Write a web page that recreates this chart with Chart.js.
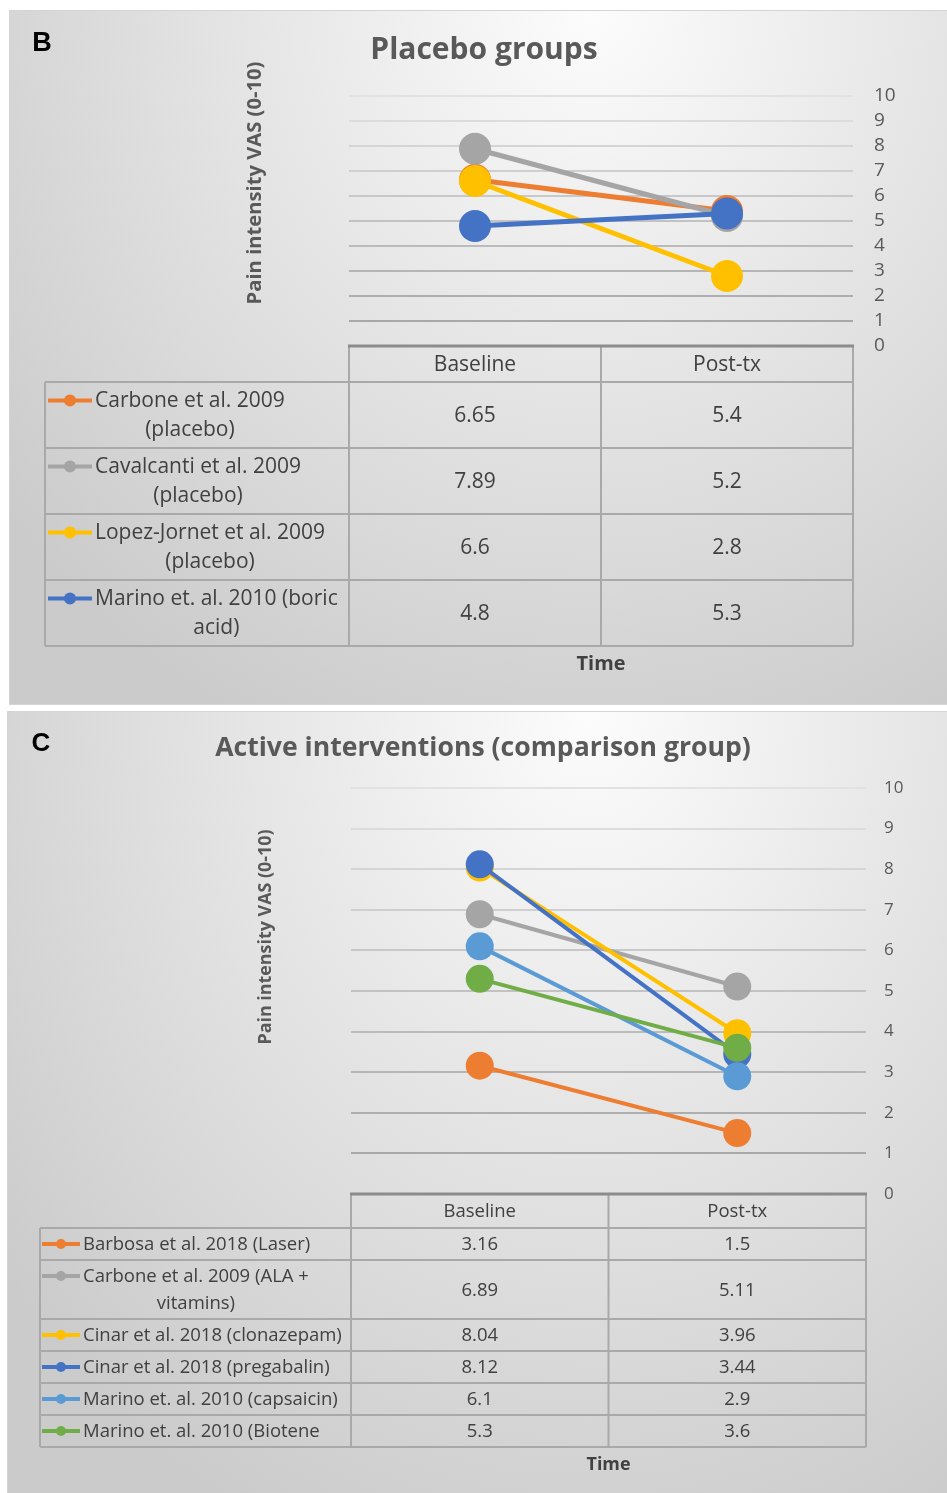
<!DOCTYPE html>
<html>
<head>
<meta charset="utf-8">
<script src="https://cdn.jsdelivr.net/npm/chart.js@4.4.1/dist/chart.umd.min.js"></script>
<style>
  body { margin: 0; background: #fff; width: 947px; height: 1493px; position: relative; overflow: hidden; }
  .panel {
    position: absolute;
    outline: 1px solid #d4d4d4;
    background: radial-gradient(ellipse 80% 115% at 62% 0%, #fcfcfc 0%, #e8e8e8 40%, #cbcbcb 100%);
  }
  .panel canvas { position: absolute; left: 0; top: 0; }
</style>
</head>
<body>
<div class="panel" style="left:10px;top:11px;width:937px;height:693px">
  <canvas id="chartB" width="937" height="693"></canvas>
</div>
<div class="panel" style="left:8px;top:712px;width:939px;height:781px">
  <canvas id="chartC" width="939" height="781"></canvas>
</div>
<script>
const categories = ['Baseline', 'Post-tx'];
const yTicks = [0, 1, 2, 3, 4, 5, 6, 7, 8, 9, 10];
const yTitle = 'Pain intensity VAS (0-10)';
const xTitle = 'Time';

// panel B
const placeboStudies = ['Carbone et al. 2009 (placebo)', 'Cavalcanti et al. 2009 (placebo)',
  'Lopez-Jornet et al. 2009 (placebo)', 'Marino et. al. 2010 (boric acid)'];
const placeboBaseline = [6.65, 7.89, 6.6, 4.8];
const placeboPost = [5.4, 5.2, 2.8, 5.3];
const placeboColors = ['#ED7D31', '#A5A5A5', '#FFC000', '#4472C4'];

// panel C
const activeStudies = ['Barbosa et al. 2018 (Laser)', 'Carbone et al. 2009 (ALA + vitamins)',
  'Cinar et al. 2018 (clonazepam)', 'Cinar et al. 2018 (pregabalin)',
  'Marino et. al. 2010 (capsaicin)', 'Marino et. al. 2010 (Biotene'];
const activeBaseline = [3.16, 6.89, 8.04, 8.12, 6.1, 5.3];
const activePost = [1.5, 5.11, 3.96, 3.44, 2.9, 3.6];
const activeColors = ['#ED7D31', '#A5A5A5', '#FFC000', '#4472C4', '#5B9BD5', '#70AD47'];

const FONT = '"Open Sans"';

function gridColor(v) {
  const g = Math.round(168 + (v - 1) / 9 * (226 - 168));
  return `rgb(${g},${g},${g})`;
}

// font size that makes text about w pixels wide
function fitFont(ctx, text, w) {
  ctx.font = `bold 20px ${FONT}`;
  const size = 20 * w / ctx.measureText(text).width;
  return `bold ${size.toFixed(1)}px ${FONT}`;
}

function wrap(ctx, text, maxW) {
  const words = text.split(' ');
  const lines = [];
  let cur = '';
  words.forEach(w => {
    const t = cur ? cur + ' ' + w : w;
    if (cur && ctx.measureText(t).width > maxW) { lines.push(cur); cur = w; }
    else cur = t;
  });
  lines.push(cur);
  return lines;
}

// draws panel letter, titles and the excel-like data table under the plot
function makeDecor(o) {
  return {
    id: 'decor',
    afterDraw(chart) {
      const ctx = chart.ctx, ca = chart.chartArea, xs = chart.scales.x;
      ctx.save();
      ctx.textAlign = 'center';
      ctx.textBaseline = 'middle';

      ctx.fillStyle = '#000';
      ctx.font = `bold ${o.letterSize}px "Liberation Sans"`;
      ctx.fillText(o.letter, o.letterX, o.letterY);

      ctx.fillStyle = '#595959';
      ctx.font = fitFont(ctx, o.title, o.titleW);
      ctx.fillText(o.title, o.titleX, o.titleY);

      ctx.save();
      ctx.translate(o.yTitleX, o.yTitleY);
      ctx.rotate(-Math.PI / 2);
      ctx.font = fitFont(ctx, yTitle, o.yTitleW);
      ctx.fillText(yTitle, 0, 0);
      ctx.restore();

      // table
      const half = (xs.getPixelForValue(1) - xs.getPixelForValue(0)) / 2;
      const colRight = categories.map((c, i) => xs.getPixelForValue(i) + half);
      const top = ca.bottom;
      const headBottom = top + o.headerH;
      ctx.font = `${o.textSize}px ${FONT}`;
      ctx.fillStyle = '#404040';
      categories.forEach((c, i) => ctx.fillText(c, xs.getPixelForValue(i), top + o.headerH / 2 + 1));

      ctx.strokeStyle = '#a9a9a9';
      ctx.lineWidth = 2;
      const hline = (x0, x1, y) => { ctx.beginPath(); ctx.moveTo(x0, y); ctx.lineTo(x1, y); ctx.stroke(); };
      const vline = (x, y0, y1) => { ctx.beginPath(); ctx.moveTo(x, y0); ctx.lineTo(x, y1); ctx.stroke(); };

      let y = headBottom;
      hline(o.tableLeft, ca.right, y);
      o.studies.forEach((name, i) => {
        const lines = wrap(ctx, name, o.wrapW);
        const h = o.rowPad + lines.length * o.lineH;
        const cy = y + h / 2;
        const firstY = cy - (lines.length - 1) / 2 * o.lineH;
        // legend key
        ctx.strokeStyle = o.colors[i];
        ctx.lineWidth = 4;
        hline(o.keyX0, o.keyX1, firstY);
        ctx.fillStyle = o.colors[i];
        ctx.beginPath();
        ctx.arc((o.keyX0 + o.keyX1) / 2, firstY, o.keyR, 0, Math.PI * 2);
        ctx.fill();
        // name
        ctx.fillStyle = '#404040';
        const blockW = Math.max(...lines.map(l => ctx.measureText(l).width));
        lines.forEach((l, k) => ctx.fillText(l, o.textX + blockW / 2, firstY + k * o.lineH + 1));
        // values
        ctx.fillText(String(o.baseline[i]), xs.getPixelForValue(0), cy + 1);
        ctx.fillText(String(o.post[i]), xs.getPixelForValue(1), cy + 1);
        y += h;
        ctx.strokeStyle = '#a9a9a9';
        ctx.lineWidth = 2;
        hline(o.tableLeft, ca.right, y);
      });
      const bottom = y;
      vline(o.tableLeft, headBottom, bottom);
      vline(ca.left, top, bottom);
      colRight.forEach(x => vline(x, top, bottom));

      ctx.strokeStyle = '#8c8c8c';
      ctx.lineWidth = 3;
      hline(ca.left - 1, ca.right + 1, top);

      ctx.fillStyle = '#404040';
      ctx.font = fitFont(ctx, xTitle, o.timeW);
      ctx.fillText(xTitle, (ca.left + ca.right) / 2, bottom + o.timeGap);
      ctx.restore();
    }
  };
}

function buildChart(id, o) {
  const datasets = o.studies.map((name, i) => ({
    label: name,
    data: [o.baseline[i], o.post[i]],
    borderColor: o.colors[i],
    backgroundColor: o.colors[i],
    pointBackgroundColor: o.colors[i],
    pointBorderColor: o.colors[i],
    pointBorderWidth: 0,
    pointRadius: o.pointR,
    pointHoverRadius: o.pointR,
    borderWidth: o.lineW,
    order: -i
  }));
  return new Chart(document.getElementById(id), {
    type: 'line',
    data: { labels: categories, datasets },
    options: {
      responsive: false,
      animation: false,
      events: [],
      layout: { padding: { left: o.area.left, top: o.area.top, right: 0, bottom: o.height - o.area.bottom } },
      plugins: { legend: { display: false }, tooltip: { enabled: false }, title: { display: false } },
      scales: {
        x: { type: 'category', offset: true, display: false },
        y: {
          position: 'right',
          min: 0,
          max: 10,
          afterBuildTicks: s => { s.ticks = yTicks.map(v => ({ value: v })); },
          afterFit: s => { s.width = o.width - o.area.right; },
          border: { display: false },
          grid: {
            drawTicks: false,
            color: c => gridColor(c.tick.value),
            lineWidth: c => (c.tick.value === 0 ? 0 : 2)
          },
          ticks: {
            autoSkip: false,
            padding: o.tickPad,
            color: '#595959',
            font: { family: 'Open Sans', size: o.tickSize }
          }
        }
      }
    },
    plugins: [makeDecor(o)]
  });
}

buildChart('chartB', {
  studies: placeboStudies, baseline: placeboBaseline, post: placeboPost, colors: placeboColors,
  width: 937, height: 693,
  area: { left: 339, right: 843, top: 85, bottom: 335 },
  tickPad: 21, tickSize: 19, pointR: 16, lineW: 5,
  letter: 'B', letterX: 32, letterY: 33, letterSize: 27,
  title: 'Placebo groups', titleX: 474, titleY: 39, titleW: 227,
  yTitleX: 245, yTitleY: 172, yTitleW: 243,
  tableLeft: 35, headerH: 36, rowPad: 8, lineH: 29, textSize: 21,
  keyX0: 38, keyX1: 82, keyR: 6, textX: 85, wrapW: 262,
  timeGap: 18, timeW: 49
});

buildChart('chartC', {
  studies: activeStudies, baseline: activeBaseline, post: activePost, colors: activeColors,
  width: 939, height: 781,
  area: { left: 343, right: 858, top: 76, bottom: 482 },
  tickPad: 18, tickSize: 17, pointR: 14, lineW: 4,
  letter: 'C', letterX: 33, letterY: 32, letterSize: 26,
  title: 'Active interventions (comparison group)', titleX: 475, titleY: 36, titleW: 535,
  yTitleX: 258, yTitleY: 225, yTitleW: 215,
  tableLeft: 32, headerH: 34, rowPad: 5, lineH: 27, textSize: 18.5,
  keyX0: 34, keyX1: 72, keyR: 5, textX: 75, wrapW: 275,
  timeGap: 18, timeW: 44
});
</script>
</body>
</html>
